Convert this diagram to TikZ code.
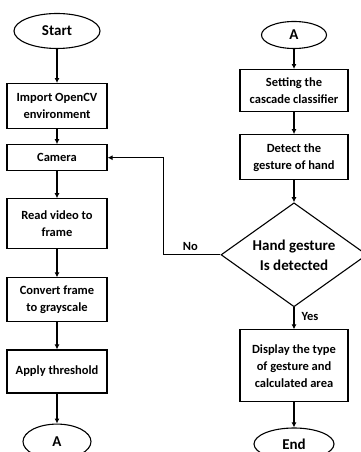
\documentclass[tikz,border=0pt]{standalone}
\usepackage{fontspec}
\setmainfont{Carlito}
\usetikzlibrary{arrows.meta,positioning,shapes.geometric}

\begin{document}
\begin{tikzpicture}[
		x=1pt,y=1pt,
		stepbox/.style={
			draw,
			line width=1.1pt,
			align=center,
			inner sep=2pt,
			font=\bfseries\fontsize{12.5}{17}\selectfont
		},
		term/.style={
			draw,
			ellipse,
			line width=1.1pt,
			inner sep=0pt,
			font=\bfseries\fontsize{15}{18}\selectfont
		},
		flow/.style={-{Latex[length=5pt,width=5pt]},line width=1.1pt}
		]
		
		\useasboundingbox (0,0) rectangle (361,452);
		
		% left column
		\node[term,minimum width=86pt,minimum height=35pt] (start) at (57,421)
		{Start};
		
		\node[stepbox,minimum width=100pt,minimum height=45pt,below=34pt of start]
		(import)
		{Import OpenCV\\ environment};
		
		\node[stepbox,minimum width=100pt,minimum height=26pt,below=15pt of import]
		(camera)
		{Camera};
		
		\node[stepbox,minimum width=100pt,minimum height=50pt,below=27pt of camera]
		(readvid)
		{Read video to\\ frame};
		
		\node[stepbox,minimum width=100pt,minimum height=44pt,below=28pt of readvid]
		(gray)
		{Convert frame\\ to grayscale};
		
		\node[stepbox,minimum width=100pt,minimum height=43pt,below=27pt of gray]
		(thresh)
		{Apply threshold};
		
		\node[term,minimum width=68pt,minimum height=35pt,below=30pt of thresh]
		(linkA)
		{A};
		
		% right column
		\node[term,minimum width=65pt,minimum height=27pt] (contA) at (294,417)
		{A};
		
		\node[stepbox,minimum width=108pt,minimum height=42pt,below=20pt of contA]
		(cascade)
		{Setting the\\ cascade classifier};
		
		\node[stepbox,minimum width=108pt,minimum height=45pt,below=22pt of cascade]
		(detect)
		{Detect the\\ gesture of hand};
		
		\node[draw,diamond,aspect=1.4,line width=1.1pt,inner sep=0pt,
		minimum width=146pt,minimum height=104pt,align=center,
		font=\bfseries\fontsize{15}{20}\selectfont,below=22pt of detect]
		(isdet)
		{Hand gesture\\ Is detected};
		
		\node[stepbox,minimum width=108pt,minimum height=72pt,below=22pt of isdet]
		(display)
		{Display the type\\ of gesture and\\ calculated area};
		
		\node[term,minimum width=80pt,minimum height=32pt,below=25pt of display]
		(finish)
		{End};
		
		\coordinate[left=57pt of isdet.west] (turn);
		
		\draw[flow] (start)--(import);
		\draw[flow] (import)--(camera);
		\draw[flow] (camera)--(readvid);
		\draw[flow] (readvid)--(gray);
		\draw[flow] (gray)--(thresh);
		\draw[flow] (thresh)--(linkA);
		
		\draw[flow] (contA)--(cascade);
		\draw[flow] (cascade)--(detect);
		\draw[flow] (detect)--(isdet);
		\draw[flow] (isdet)--(display);
		\draw[flow] (display)--(finish);
		
		\draw[flow] (isdet.west)--(turn)|-(camera.east);
		
		\node[font=\bfseries\fontsize{12.5}{15}\selectfont,above right=1pt and 16pt of turn] (nolbl) {No};
		\node[anchor=west,font=\bfseries\fontsize{12.5}{15}\selectfont] (yeslbl)
		at ([xshift=4pt,yshift=-9pt]isdet.south) {Yes};
		
	\end{tikzpicture}
\end{document}
